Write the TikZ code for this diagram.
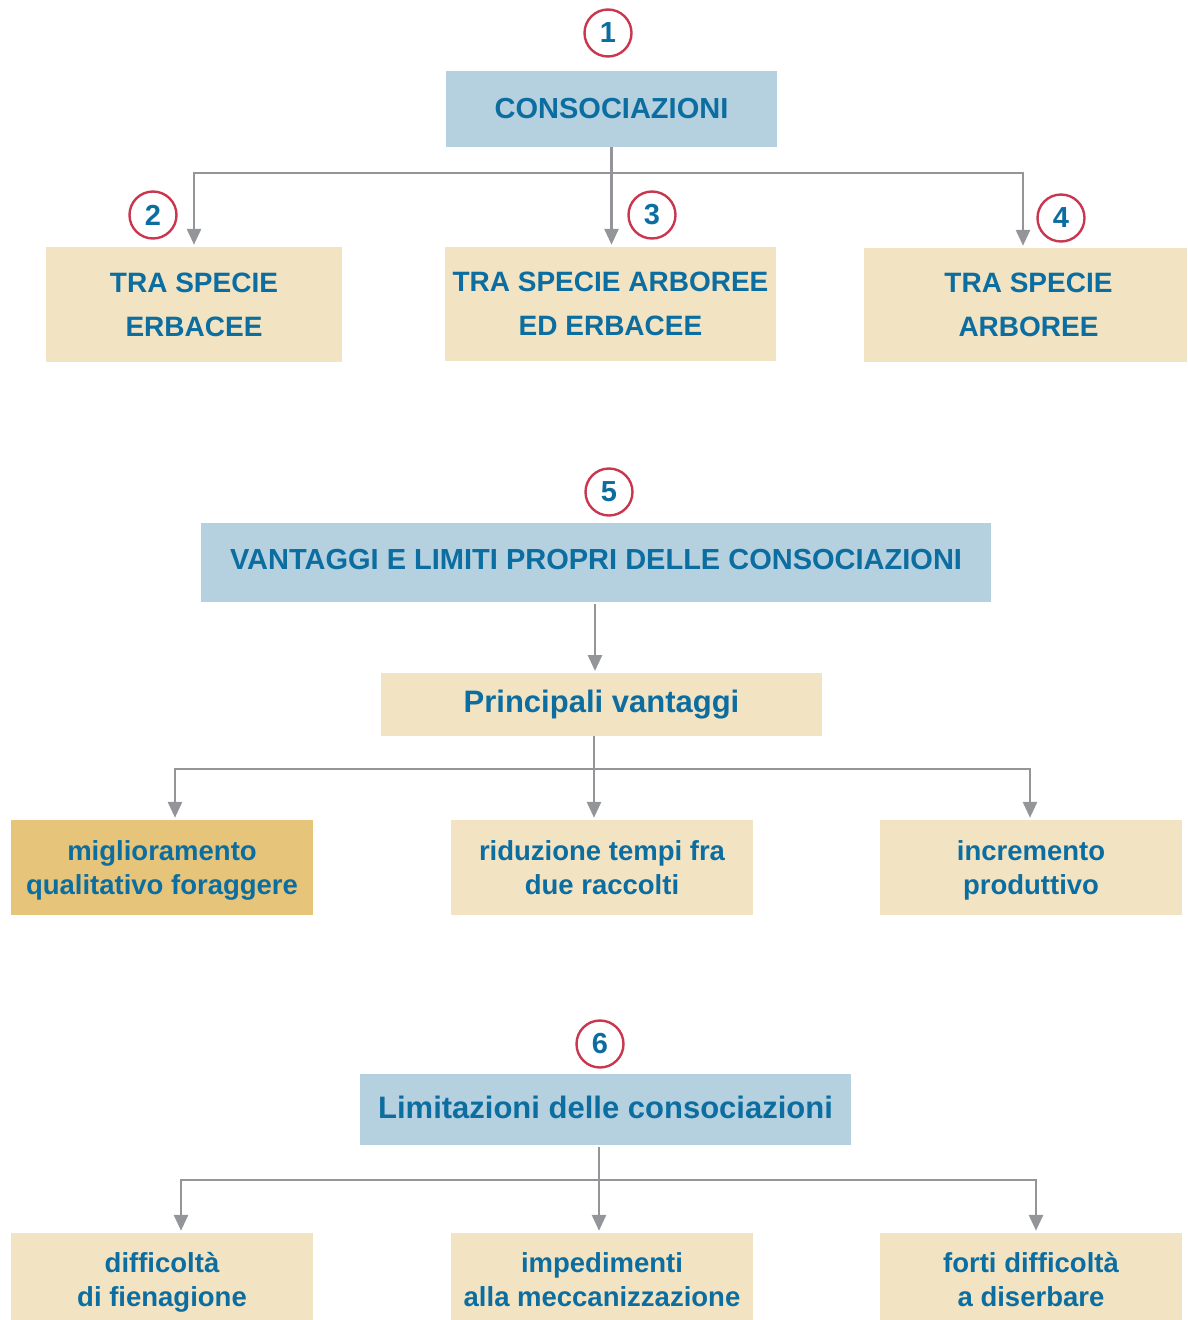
\documentclass[tikz,border=0pt]{standalone}
\usepackage{fontspec}
\setmainfont{Liberation Sans}
\usetikzlibrary{arrows.meta}
\definecolor{boxblue}{HTML}{B5D0DE}
\definecolor{boxbeige}{HTML}{F2E3C2}
\definecolor{boxgold}{HTML}{E6C47A}
\definecolor{txtblue}{HTML}{0C6DA0}
\definecolor{numred}{HTML}{C8374F}
\definecolor{lgray}{HTML}{939598}
\newcommand\mytxt[2]{\raisebox{#1}[\height][\depth]{\begin{tabular}{@{}c@{}}#2\end{tabular}}}
\newcommand\myone[2]{\raisebox{#1}[\height][\depth]{#2}}
\tikzset{
  x=1pt, y=-1pt,
  titlebox/.style={fill=boxblue, inner sep=0pt, align=center, text=txtblue, font=\bfseries\fontsize{29}{40}\selectfont},
  capbox/.style={fill=boxbeige, inner sep=0pt, align=center, text=txtblue, font=\bfseries\fontsize{28}{44}\selectfont},
  lowbox/.style={fill=boxbeige, inner sep=0pt, align=center, text=txtblue, font=\bfseries\fontsize{27.5}{34}\selectfont},
  numcirc/.style={circle, draw=numred, line width=2.4pt, minimum size=47pt, inner sep=0pt, text=txtblue, font=\bfseries\fontsize{29}{30}\selectfont},
  conn/.style={draw=lgray, line width=2.8pt},
  arr/.style={conn, -{Triangle[length=16pt,width=14pt]}, shorten >=2pt},
}
\begin{document}
\begin{tikzpicture}
\useasboundingbox (0,0) rectangle (1187,1320);
% ---- section 1
\node[numcirc] (n1) at (608,33) {1};
\node[titlebox, minimum width=331pt, minimum height=76pt] (cons) at (611.5,109) {CONSOCIAZIONI};
\node[capbox, minimum width=296pt, minimum height=115pt] (b1) at (194,304.5) {TRA SPECIE\\ERBACEE};
\node[capbox, minimum width=331pt, minimum height=114pt] (b2) at (610.5,304) {TRA SPECIE ARBOREE\\ED ERBACEE};
\node[capbox, minimum width=323pt, minimum height=114pt] (b3) at (1025.5,305) {\hspace*{6pt}TRA SPECIE\\\hspace*{6pt}ARBOREE};
\node[numcirc] (n2) at (153,215) {2};
\node[numcirc] (n3) at (652,215) {3};
\node[numcirc] (n4) at (1061,218) {4};
\coordinate (j1) at (611,173);
\draw[conn] (b1.north |- j1) -- ([xshift=-2.5pt]b3.north |- j1);
\draw[arr] (cons.south) -- (cons.south |- b2.north);
\draw[arr] (j1) -| (b1.north);
\draw[arr] (j1) -| ([xshift=-2.5pt]b3.north);
% ---- section 2
\node[numcirc] (n5) at (609,492) {5};
\node[titlebox, minimum width=790pt, minimum height=79pt] (vant) at (596,562.5) {\myone{3pt}{VANTAGGI E LIMITI PROPRI DELLE CONSOCIAZIONI}};
\node[titlebox, fill=boxbeige, font=\bfseries\fontsize{31}{36}\selectfont, minimum width=441pt, minimum height=63pt] (pv) at (601.5,704.5) {Principali vantaggi};
\draw[arr] ([yshift=-2pt]vant.south -| 595,0) -- (595,673);
\node[lowbox, fill=boxgold, minimum width=302pt, minimum height=95pt] (v1) at (162,867.5) {\mytxt{-3pt}{miglioramento\\qualitativo foraggere}};
\node[lowbox, minimum width=302pt, minimum height=95pt] (v2) at (602,867.5) {\mytxt{-3pt}{riduzione tempi fra\\due raccolti}};
\node[lowbox, minimum width=302pt, minimum height=95pt] (v3) at (1031,867.5) {\mytxt{-3pt}{incremento\\produttivo}};
\coordinate (j2) at (594,769);
\draw[conn] ([xshift=13pt]v1.north |- j2) -- ([xshift=-1pt]v3.north |- j2);
\draw[arr] (pv.south -| j2) -- (j2 |- v2.north);
\draw[arr] (j2) -| ([xshift=13pt]v1.north);
\draw[arr] (j2) -| ([xshift=-1pt]v3.north);
% ---- section 3
\node[numcirc] (n6) at (600,1044) {6};
\node[titlebox, font=\bfseries\fontsize{31}{36}\selectfont, minimum width=491pt, minimum height=71pt] (lim) at (605.5,1109.5) {\myone{2.5pt}{Limitazioni delle consociazioni}};
\node[lowbox, minimum width=302pt, minimum height=90pt] (l1) at (162,1278) {\mytxt{-5pt}{difficoltà\\di fienagione}};
\node[lowbox, minimum width=302pt, minimum height=90pt] (l2) at (602,1278) {\mytxt{-5pt}{impedimenti\\alla meccanizzazione}};
\node[lowbox, minimum width=302pt, minimum height=90pt] (l3) at (1031,1278) {\mytxt{-5pt}{forti difficoltà\\a diserbare}};
\coordinate (j3) at (599,1180);
\draw[conn] ([xshift=19pt]l1.north |- j3) -- ([xshift=5pt]l3.north |- j3);
\draw[arr] ([yshift=-2pt]lim.south -| j3) -- (j3 |- l2.north);
\draw[arr] (j3) -| ([xshift=19pt]l1.north);
\draw[arr] (j3) -| ([xshift=5pt]l3.north);
\end{tikzpicture}
\end{document}
